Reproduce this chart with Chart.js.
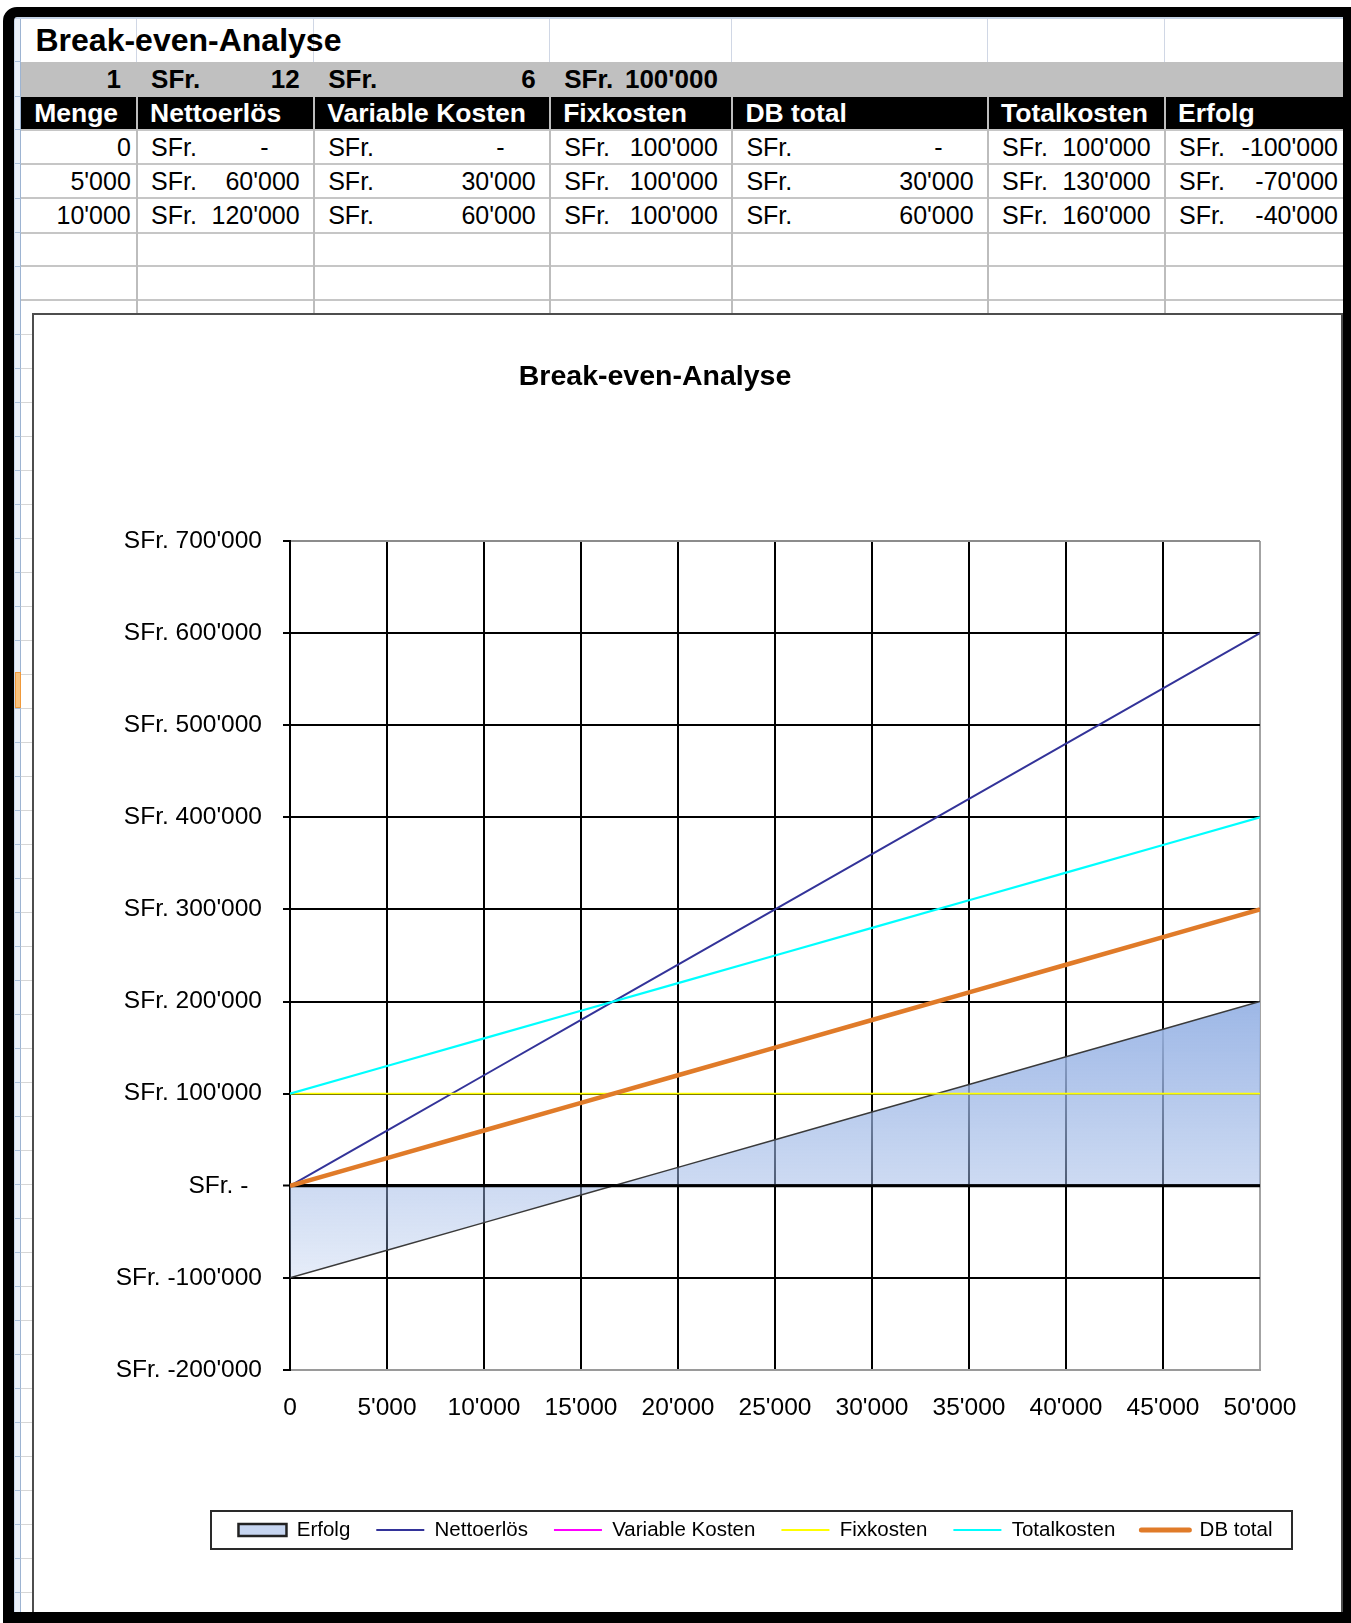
<!DOCTYPE html>
<html lang="de">
<head>
<meta charset="utf-8">
<title>Break-even-Analyse</title>
<script src="https://cdn.jsdelivr.net/npm/chart.js"></script>
<style>
  html, body { margin:0; padding:0; width:1351px; height:1623px; overflow:hidden; background:#fff;
    font-family:"Liberation Sans", Arial, Helvetica, sans-serif; }
  .abs { position:absolute; box-sizing:border-box; }
  #frame { position:absolute; left:3px; top:7px; width:1348px; height:1616px; box-sizing:border-box;
    border-style:solid; border-color:#000; border-width:10px 8px 11px 11px; border-top-left-radius:14px;
    z-index:20; pointer-events:none; }
  #chartBox { position:absolute; left:32px; top:313px; width:1311px; height:1320px; box-sizing:border-box;
    border:2px solid #4d4d4d; background:#fff; z-index:5; }
  #chart { position:absolute; left:0; top:0; }
</style>
</head>
<body>
<div id="sheet"></div>
<div id="chartBox"><canvas id="chart" width="1307" height="1297"></canvas></div>
<div id="frame"></div>
<script>
// ---------------- DATA ----------------
const menge          = [0, 5000, 10000, 15000, 20000, 25000, 30000, 35000, 40000, 45000, 50000];
const nettoerloes    = [0, 60000, 120000, 180000, 240000, 300000, 360000, 420000, 480000, 540000, 600000];
const variableKosten = [0, 30000, 60000, 90000, 120000, 150000, 180000, 210000, 240000, 270000, 300000];
const fixkosten      = [100000, 100000, 100000, 100000, 100000, 100000, 100000, 100000, 100000, 100000, 100000];
const dbTotal        = [0, 30000, 60000, 90000, 120000, 150000, 180000, 210000, 240000, 270000, 300000];
const totalkosten    = [100000, 130000, 160000, 190000, 220000, 250000, 280000, 310000, 340000, 370000, 400000];
const erfolg         = [-100000, -70000, -40000, -10000, 20000, 50000, 80000, 110000, 140000, 170000, 200000];

const parameter      = [1, 12, 6, 100000];            // Menge-Einheit, Preis, var. Kosten/Stk, Fixkosten
const tableHeaders   = ['Menge', 'Nettoerlös', 'Variable Kosten', 'Fixkosten', 'DB total', 'Totalkosten', 'Erfolg'];
const tableRowCount  = 3;
const seriesNames    = ['Erfolg', 'Nettoerlös', 'Variable Kosten', 'Fixkosten', 'Totalkosten', 'DB total'];
const sheetTitle     = 'Break-even-Analyse';
const chartTitle     = 'Break-even-Analyse';
const xTickLabels    = ['0', "5'000", "10'000", "15'000", "20'000", "25'000", "30'000", "35'000", "40'000", "45'000", "50'000"];
const yTickLabels    = ["SFr. -200'000", "SFr. -100'000", 'SFr. -  ', "SFr. 100'000", "SFr. 200'000", "SFr. 300'000",
                        "SFr. 400'000", "SFr. 500'000", "SFr. 600'000", "SFr. 700'000"];

// ---------------- HELPERS ----------------
const FONT = '"Liberation Sans", Arial, Helvetica, sans-serif';
function sw(n) {
  const s = String(Math.abs(n)).replace(/\B(?=(\d{3})+(?!\d))/g, "'");
  return (n < 0 ? '-' : '') + s;
}
const sheet = document.getElementById('sheet');
function box(x1, y1, x2, y2, style) {
  const d = document.createElement('div');
  d.className = 'abs';
  d.style.left = x1 + 'px'; d.style.top = y1 + 'px';
  d.style.width = (x2 - x1) + 'px'; d.style.height = (y2 - y1) + 'px';
  Object.assign(d.style, style || {});
  sheet.appendChild(d);
  return d;
}
function text(x1, x2, y1, y2, str, align, style) {
  const d = box(x1, y1, x2, y2, Object.assign({ lineHeight: (y2 - y1) + 'px', textAlign: align, whiteSpace: 'nowrap' }, style || {}));
  d.textContent = str;
  return d;
}

// ---------------- SPREADSHEET ----------------
const COLS = [20.7, 136.6, 313.7, 549.7, 731.9, 987.6, 1164.6, 1352];
const ROWS = [17, 61.5, 96.5, 129.5, 163.5, 198, 232.5, 266, 300];
const SHEET_R = 1343;

// row header strip on the left
box(14, 17, 20.7, 1612, { background: '#EAF0F8', borderLeft: '1px solid #C9D7EA', borderRight: '1.5px solid #9DB4D2' });
// top edge
box(14, 17, SHEET_R, 19, { background: '#C5D3E6' });
// row 2 (grey parameter row) and row 3 (black header)
box(COLS[0], ROWS[1], SHEET_R, ROWS[2], { background: '#C0C0C0' });
box(COLS[0], ROWS[2], SHEET_R, ROWS[3], { background: '#000' });
// row-1 light column lines
for (let i = 1; i < COLS.length - 1; i++) box(COLS[i] - 0.5, 19, COLS[i] + 0.5, ROWS[1], { background: '#D0D7E5' });
// grey horizontal lines in the table area
for (let r = 3; r < ROWS.length; r++) box(COLS[0], ROWS[r] - 1, SHEET_R, ROWS[r] + 1, { background: '#C6C6C6' });
// column lines from header row down to the chart
for (let i = 1; i < COLS.length - 1; i++) box(COLS[i] - 1, ROWS[2], COLS[i] + 1, 314, { background: '#BDBDBD' });
// row lines in header strip and left margin below the table
for (let y = ROWS[1]; y < 1612; y += (y < 300 ? 0 : 34)) {
  box(14.5, y - 0.5, 20.7, y + 0.5, { background: '#A9BFDA' });
  if (y >= 300) box(20.7, y - 0.5, 32, y + 0.5, { background: '#D6D6D6' });
  if (y < 300) { const idx = ROWS.indexOf(y); if (idx < ROWS.length - 1) { y = ROWS[idx + 1]; continue; } }
}
// selected row marker
box(14.5, 672, 20.7, 707.5, { background: '#F9C27D', border: '1px solid #F0993A' });

// title row
text(35.5, 700, ROWS[0], ROWS[1] + 2, sheetTitle, 'left', { fontSize: '32px', fontWeight: 'bold', color: '#000' });

// parameter row (bold)
const pStyle = { fontSize: '26px', fontWeight: 'bold', color: '#000' };
text(COLS[0], COLS[1] - 15.6, ROWS[1], ROWS[2], String(parameter[0]), 'right', pStyle);
for (let c = 1; c <= 3; c++) {
  text(COLS[c] + 14.5, COLS[c + 1], ROWS[1], ROWS[2], 'SFr.', 'left', pStyle);
  text(COLS[c], COLS[c + 1] - 14, ROWS[1], ROWS[2], sw(parameter[c]), 'right', pStyle);
}

// header row (white bold)
tableHeaders.forEach((h, c) => {
  text(COLS[c] + 13.5, COLS[c + 1], ROWS[2], ROWS[3], h, 'left', { fontSize: '26.5px', fontWeight: 'bold', color: '#fff' });
});

// data rows
const tableSeries = [menge, nettoerloes, variableKosten, fixkosten, dbTotal, totalkosten, erfolg];
const dStyle = { fontSize: '25px', color: '#000' };
for (let r = 0; r < tableRowCount; r++) {
  const y1 = ROWS[3 + r], y2 = ROWS[4 + r];
  tableSeries.forEach((arr, c) => {
    const v = arr[r];
    if (c === 0) { text(COLS[0], COLS[1] - 5.8, y1, y2, sw(v), 'right', dStyle); return; }
    text(COLS[c] + 14.5, COLS[c + 1], y1, y2, 'SFr.', 'left', dStyle);
    if (v === 0) text(COLS[c], COLS[c + 1] - 45, y1, y2, '-', 'right', dStyle);
    else text(COLS[c], COLS[c + 1] - 14, y1, y2, sw(v), 'right', dStyle);
  });
}

// ---------------- CHART ----------------
Chart.defaults.font.family = FONT;
Chart.defaults.color = '#000';

const LEGEND_CENTER_X = 721.5;
const pts = arr => menge.map((m, i) => ({ x: m, y: arr[i] }));

function erfolgFill(context) {
  const chart = context.chart;
  const { chartArea, scales } = chart;
  if (!chartArea) return 'rgba(157,183,230,0.6)';
  const y = scales.y;
  const yTop = y.getPixelForValue(Math.max(...erfolg));
  const yBot = y.getPixelForValue(Math.min(...erfolg));
  const g = chart.ctx.createLinearGradient(0, yTop, 0, yBot);
  g.addColorStop(0, 'rgba(157,183,230,1)');
  g.addColorStop(1, 'rgba(157,183,230,0.26)');
  return g;
}

const colors = ['#3A3A3A', '#333399', '#FF00FF', '#FFFF00', '#00FFFF', '#E07B29'];
const widths = [1.5, 2, 2, 1.8, 2.2, 4.5];
const series = [erfolg, nettoerloes, variableKosten, fixkosten, totalkosten, dbTotal];

const datasets = series.map((arr, i) => ({
  label: seriesNames[i],
  data: pts(arr),
  borderColor: colors[i],
  borderWidth: widths[i],
  backgroundColor: i === 0 ? erfolgFill : colors[i],
  fill: i === 0 ? 'origin' : false,
  pointRadius: 0,
  pointHoverRadius: 0,
  tension: 0,
  order: series.length - i
}));

const overlay = {
  id: 'overlay',
  afterDatasetDraw(chart, args) {
    if (args.index !== 0) return;
    // x axis line at zero drawn over the area (as in the original)
    const { ctx, chartArea, scales } = chart;
    const y0 = scales.y.getPixelForValue(0);
    ctx.save();
    ctx.strokeStyle = '#000';
    ctx.lineWidth = 3;
    ctx.beginPath();
    ctx.moveTo(chartArea.left, y0);
    ctx.lineTo(chartArea.right, y0);
    ctx.stroke();
    ctx.restore();
  },
  afterLayout(chart) {
    const l = chart.legend;
    if (!l) return;
    const d = LEGEND_CENTER_X - (l.left + l.right) / 2;
    l.left += d; l.right += d;
  },
  afterDraw(chart) {
    const l = chart.legend;
    if (!l || !l.lineWidths) return;
    const lab = l.options.labels;
    const pad = lab.padding;
    const cx = (l.left + l.right) / 2;
    const half = (l.lineWidths[0] - pad) / 2;
    const cy = l.top + pad + lab.font.size / 2;
    const ctx = chart.ctx;
    ctx.save();
    ctx.strokeStyle = '#2a2a2a';
    ctx.lineWidth = 2;
    ctx.strokeRect(Math.round(cx - half - 27) + 0.0, Math.round(cy - 19), Math.round(2 * half + 47), 38);
    ctx.restore();
  }
};

new Chart(document.getElementById('chart'), {
  type: 'line',
  data: { datasets },
  options: {
    responsive: false,
    animation: false,
    devicePixelRatio: 1,
    events: [],
    layout: { padding: { left: 16, right: 81, top: 0, bottom: 61.75 } },
    plugins: {
      title: {
        display: true, text: chartTitle, color: '#000',
        font: { size: 28.5, weight: 'bold', family: FONT },
        padding: { top: 44.9, bottom: 146.9 }
      },
      legend: {
        position: 'bottom',
        labels: {
          usePointStyle: true,
          pointStyleWidth: 48,
          boxHeight: 12,
          padding: 26,
          color: '#000',
          font: { size: 20.5, family: FONT },
          generateLabels: chart => chart.data.datasets.map((ds, i) => ({
            text: ds.label,
            datasetIndex: i,
            hidden: false,
            fillStyle: i === 0 ? '#C6D5F0' : ds.borderColor,
            strokeStyle: i === 0 ? '#222' : ds.borderColor,
            lineWidth: i === 0 ? 2.5 : (i === 5 ? 5 : 2),
            lineCap: i === 5 ? 'round' : 'butt',
            pointStyle: i === 0 ? 'rect' : 'line',
            fontColor: '#000'
          }))
        }
      },
      tooltip: { enabled: false }
    },
    scales: {
      x: {
        type: 'linear', min: 0, max: 50000,
        afterFit: s => { s.height = 123.75; },
        ticks: {
          stepSize: 5000, autoSkip: false, maxRotation: 0, padding: 23.3, color: '#000',
          font: { size: 24.5, family: FONT },
          callback: (v, i) => xTickLabels[i]
        },
        grid: {
          color: c => (c.tick && c.tick.value === 50000) ? '#a3a3a3' : '#000',
          lineWidth: 2, drawTicks: false
        },
        border: { display: true, color: '#9a9a9a', width: 2 }
      },
      y: {
        min: -200000, max: 700000,
        afterFit: s => { s.width = 240; },
        ticks: {
          stepSize: 100000, autoSkip: false, padding: 21, color: '#000',
          font: { size: 24.5, family: FONT },
          callback: (v, i) => yTickLabels[i]
        },
        grid: {
          color: c => (c.tick && (c.tick.value === 700000 || c.tick.value === -200000)) ? '#8c8c8c' : '#000',
          lineWidth: c => (c.tick && c.tick.value === 0) ? 3 : 2,
          tickLength: 7, tickColor: '#000', tickWidth: 2
        },
        border: { display: true, color: '#000', width: 2 }
      }
    }
  },
  plugins: [overlay]
});
</script>
</body>
</html>
